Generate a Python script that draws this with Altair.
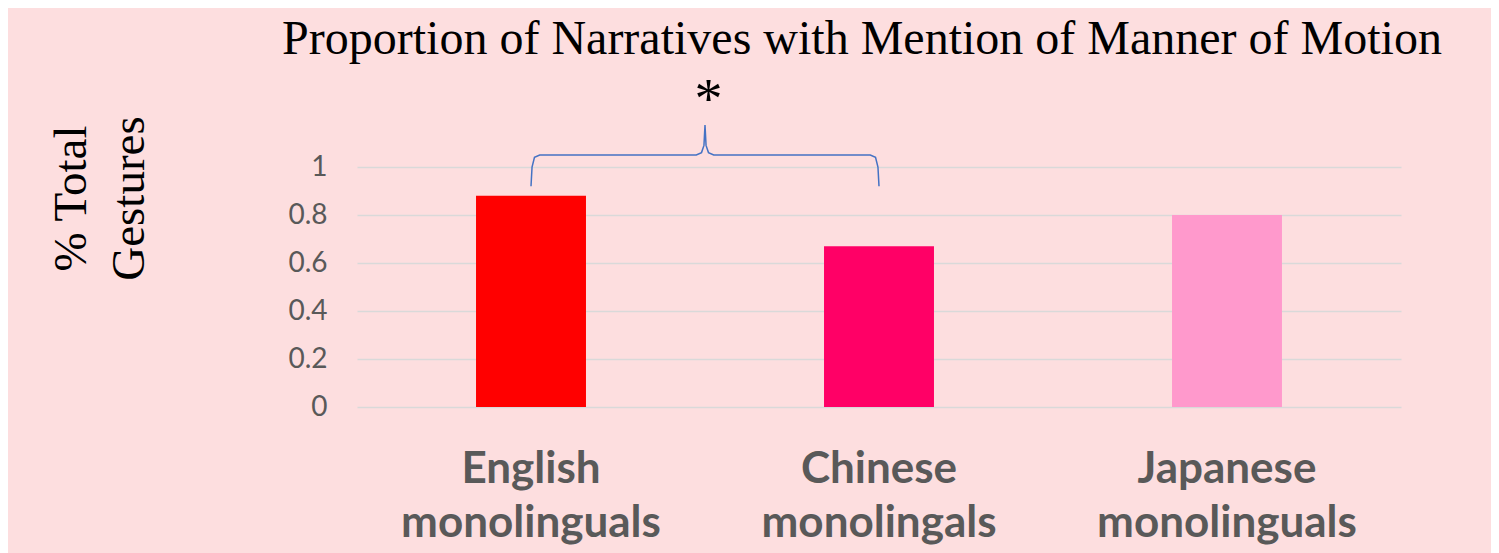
import altair as alt
import pandas as pd

# Data
groups = ["English monolinguals", "Chinese monolingals", "Japanese monolinguals"]
values = [0.88, 0.67, 0.80]
bar_colors = ["#ff0000", "#ff0066", "#ff99cc"]

# Significance brace between English and Chinese (x in category units, y in data units)
brace_x = [0.5, 0.503, 0.51, 0.525, 0.975, 0.99, 0.997, 1.0, 1.003, 1.01, 1.025, 1.475, 1.49, 1.497, 1.5]
brace_y = [0.92, 1.0, 1.04, 1.05, 1.05, 1.06, 1.09, 1.175, 1.09, 1.06, 1.05, 1.05, 1.04, 1.0, 0.92]
star_x = [1.01]
star_y = [1.205]
star_text = ["*"]

df = pd.DataFrame({"group": groups, "value": values, "color": bar_colors})
brace_df = pd.DataFrame({"bx": brace_x, "by": brace_y, "order": list(range(len(brace_x)))})
star_df = pd.DataFrame({"sx": star_x, "sy": star_y, "t": star_text})

yscale = alt.Scale(domain=[0, 1], nice=False, zero=True)

bars = alt.Chart(df).mark_bar().encode(
    x=alt.X(
        "group:N",
        sort=groups,
        scale=alt.Scale(paddingInner=0.684, paddingOuter=0.342),
        axis=alt.Axis(
            title=None,
            labelExpr="split(datum.label, ' ')",
            labelFont="Lato",
            labelFontWeight="bold",
            labelFontSize=44,
            labelColor="#595959",
            labelLineHeight=54,
            labelPadding=40,
            labelAngle=0,
            labelLimit=0,
            ticks=False,
            domain=False,
            grid=False,
        ),
    ),
    y=alt.Y(
        "value:Q",
        scale=yscale,
        axis=alt.Axis(
            values=[0, 0.2, 0.4, 0.6, 0.8, 1.0],
            format="~g",
            title=["% Total", "Gestures"],
            titleFont="Liberation Serif",
            titleFontSize=47,
            titleFontWeight="normal",
            titleColor="#000000",
            titleAngle=-90,
            titleBaseline="bottom",
            titleAlign="center",
            titleLineHeight=58,
            titleX=-262,
            titleY=31,
            labelFont="Lato",
            labelFontSize=28,
            labelColor="#595959",
            labelPadding=30,
            ticks=False,
            domain=False,
            grid=True,
            gridColor="#d9d9d9",
            gridWidth=1.5,
        ),
    ),
    color=alt.Color("color:N", scale=None),
)

xq = alt.Scale(domain=[0, 3], nice=False, zero=False)

brace = alt.Chart(brace_df).mark_line(color="#4472c4", strokeWidth=1.5, clip=False).encode(
    x=alt.X("bx:Q", scale=xq, axis=None),
    y=alt.Y("by:Q", scale=yscale),
    order="order:Q",
)

star = alt.Chart(star_df).mark_text(
    font="Liberation Serif", fontSize=56, color="#000000", baseline="alphabetic", align="center", clip=False
).encode(
    x=alt.X("sx:Q", scale=xq, axis=None),
    y=alt.Y("sy:Q", scale=yscale),
    text="t:N",
)

chart = (
    alt.layer(bars, brace, star)
    .resolve_scale(x="independent")
    .properties(
        width=1044,
        height=240,
        autosize=alt.AutoSizeParams(type="none"),
        padding={"left": 349, "top": 159, "right": 90, "bottom": 146},
        background="#fddedf",
        title=alt.TitleParams(
            text="Proportion of Narratives with Mention of Manner of Motion",
            font="Liberation Serif",
            fontSize=48,
            fontWeight="normal",
            color="#000000",
            anchor="middle",
            dx=-17,
            dy=-5,
        ),
    )
    .configure_view(stroke=None)
)

chart.save("out.html", embed_options={"renderer": "svg", "actions": False})
